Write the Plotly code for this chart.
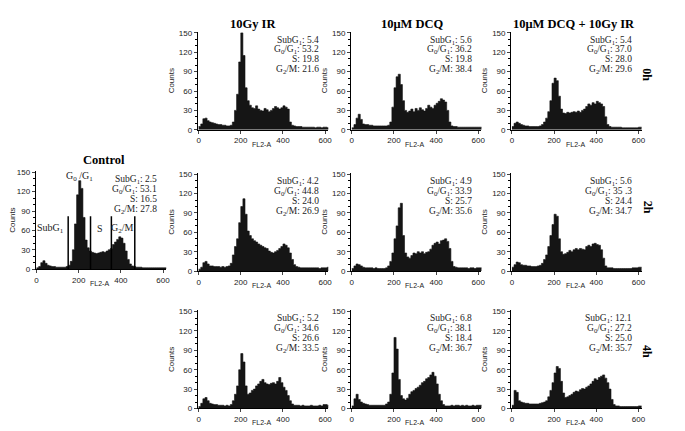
import plotly.graph_objects as go

# FL2-A bins (left edges), counts
fl2 = list(range(0, 630, 10))

control = [2, 4, 10, 13, 9, 6, 5, 4, 4, 3,
           3, 3, 3, 3, 4, 6, 12, 30, 70, 115,
           137, 125, 80, 45, 33, 28, 26, 25, 24, 25,
           26, 27, 26, 28, 30, 32, 38, 42, 46, 50,
           48, 40, 28, 15, 8, 5, 4, 3, 3, 3,
           2, 2, 2, 2, 2, 2, 2, 2, 2, 2,
           2, 2, 2]

ir_0h = [5, 9, 17, 18, 14, 12, 11, 10, 9, 8,
         8, 7, 7, 6, 6, 7, 12, 30, 55, 105,
         150, 115, 65, 45, 38, 34, 33, 37, 32, 30,
         29, 33, 31, 28, 30, 33, 36, 34, 32, 34,
         37, 35, 32, 12, 7, 6, 5, 5, 5, 4,
         4, 4, 4, 4, 4, 3, 4, 4, 3, 4,
         4, 3, 3]
dcq_0h = [3, 8, 18, 24, 16, 9, 8, 8, 7, 7,
          6, 6, 6, 6, 6, 6, 6, 7, 12, 35,
          65, 82, 86, 70, 45, 30, 27, 29, 32, 28,
          33, 30, 34, 31, 29, 33, 38, 35, 33, 38,
          41, 44, 48, 46, 43, 30, 12, 6, 5, 5,
          4, 4, 4, 4, 4, 4, 4, 4, 4, 4,
          4, 4, 4]
combo_0h = [5, 10, 12, 10, 8, 7, 6, 6, 5, 5,
            5, 5, 5, 6, 8, 12, 18, 28, 45, 72,
            80, 76, 52, 32, 26, 25, 27, 26, 27, 28,
            27, 29, 27, 30, 32, 36, 40, 38, 42, 40,
            44, 42, 40, 36, 20, 8, 5, 4, 4, 4,
            4, 4, 3, 3, 3, 3, 3, 3, 3, 3,
            4, 4, 4]

ir_2h = [3, 6, 13, 15, 11, 8, 8, 7, 7, 7,
         6, 7, 6, 7, 8, 12, 25, 38, 50, 75,
         100, 112, 88, 62, 55, 50, 47, 45, 42, 40,
         38, 36, 35, 31, 29, 28, 30, 32, 35, 38,
         42, 40, 36, 28, 18, 10, 7, 6, 5, 5,
         5, 5, 5, 5, 5, 5, 5, 4, 5, 5,
         5, 6, 6]
dcq_2h = [4, 8, 11, 10, 8, 6, 5, 5, 5, 5,
          4, 5, 4, 4, 4, 4, 5, 8, 15, 28,
          50, 70, 98, 105, 55, 28, 22, 20, 24, 28,
          27, 30, 28, 30, 27, 29, 30, 34, 40, 43,
          45, 42, 47, 48, 50, 46, 35, 15, 7, 6,
          5, 5, 5, 5, 5, 4, 5, 5, 4, 5,
          5, 5, 5]
combo_2h = [6, 10, 14, 13, 10, 9, 9, 8, 8, 7,
            7, 7, 8, 9, 12, 18, 25, 38, 55, 72,
            88, 85, 50, 30, 26, 27, 29, 32, 30, 33,
            35, 33, 35, 34, 33, 38, 40, 38, 42, 43,
            41, 40, 33, 20, 8, 5, 5, 5, 4, 4,
            4, 4, 4, 4, 4, 4, 4, 5, 5, 5,
            6, 6, 5]

ir_4h = [3, 8, 15, 17, 12, 8, 7, 6, 6, 5,
         5, 5, 4, 5, 4, 6, 12, 22, 35, 60,
         85, 72, 35, 22, 24, 28, 30, 35, 38, 42,
         45, 40, 38, 37, 39, 40, 38, 42, 48, 40,
         33, 28, 20, 12, 7, 5, 5, 5, 4, 5,
         4, 4, 4, 5, 4, 4, 4, 5, 4, 6,
         6, 5, 5]
dcq_4h = [4, 15, 22, 14, 10, 8, 7, 6, 5, 5,
          5, 5, 5, 5, 5, 5, 7, 10, 22, 55,
          110, 92, 45, 20, 15, 13, 16, 22, 26, 28,
          31, 33, 36, 40, 42, 46, 48, 52, 56, 50,
          38, 22, 12, 6, 4, 4, 4, 5, 4, 5,
          5, 4, 5, 4, 5, 4, 4, 5, 4, 5,
          5, 5, 5]
combo_4h = [5, 28, 25, 12, 10, 9, 8, 8, 7, 7,
            7, 7, 7, 8, 9, 10, 12, 18, 28, 40,
            55, 65, 62, 42, 24, 17, 18, 20, 22, 25,
            27, 26, 29, 31, 30, 33, 35, 38, 42, 46,
            44, 48, 50, 52, 47, 40, 30, 14, 6, 4,
            4, 3, 3, 3, 3, 3, 3, 3, 3, 3,
            4, 4, 4]

# SubG1, G0/G1, S, G2/M percentages
control_stats = ["2.5", "53.1", "16.5", "27.8"]
stats_0h = [["5.4", "53.2", "19.8", "21.6"], ["5.6", "36.2", "19.8", "38.4"], ["5.4", "37.0", "28.0", "29.6"]]
stats_2h = [["4.2", "44.8", "24.0", "26.9"], ["4.9", "33.9", "25.7", "35.6"], ["5.6", "35 .3", "24.4", "34.7"]]
stats_4h = [["5.2", "34.6", "26.6", "33.5"], ["6.8", "38.1", "18.4", "36.7"], ["12.1", "27.2", "25.0", "35.7"]]

treatments = ["10Gy IR", "10\u03bcM DCQ", "10\u03bcM DCQ + 10Gy IR"]
times = ["0h", "2h", "4h"]
yticks = [0, 30, 60, 90, 120, 150]
xticks = [0, 200, 400, 600]

W, H = 685, 431
PW, PH = 132, 100
SERIF = "Liberation Serif"
SANS = "Liberation Sans"

fig = go.Figure()
annotations = []


def add_panel(i, counts, stats, x0, y0):
    ax = "" if i == 1 else str(i)
    fig.add_trace(go.Scatter(
        x=fl2, y=counts, mode="lines", fill="tozeroy",
        line=dict(shape="hv", color="#111111", width=0.6),
        fillcolor="#151515", xaxis="x" + ax, yaxis="y" + ax,
        showlegend=False, hoverinfo="skip"))
    fig.update_layout(**{
        "xaxis" + ax: dict(
            domain=[x0 / W, (x0 + PW) / W], anchor="y" + ax, range=[-4, 615],
            tickvals=xticks, ticks="outside", ticklen=3, showline=True,
            linecolor="black", linewidth=1, showgrid=False, zeroline=False,
            tickfont=dict(family=SANS, size=8, color="#222")),
        "yaxis" + ax: dict(
            domain=[1 - (y0 + PH) / H, 1 - y0 / H], anchor="x" + ax, range=[0, 152],
            tickvals=yticks, ticks="outside", ticklen=3, showline=True,
            linecolor="black", linewidth=1, showgrid=False, zeroline=False,
            minor=dict(ticks="outside", ticklen=2, dtick=10, tickcolor="black"),
            tickfont=dict(family=SANS, size=8, color="#222"),
            title=dict(text="Counts", font=dict(family=SANS, size=8, color="#222"), standoff=3)),
    })
    annotations.append(dict(
        text="FL2-A", xref="x" + ax + " domain", yref="y" + ax + " domain",
        x=0.49, y=0, yshift=-20, xanchor="center", showarrow=False,
        font=dict(family=SANS, size=7, color="#222")))
    labels = ["SubG<sub>1</sub>: ", "G<sub>0</sub>/G<sub>1</sub>: ", "S: ", "G<sub>2</sub>/M: "]
    for lab, val, yy in zip(labels, stats, [139, 124, 109, 93]):
        annotations.append(dict(
            text=lab + val, xref="x" + ax, yref="y" + ax, x=580, y=yy,
            xanchor="right", yanchor="middle", showarrow=False,
            font=dict(family=SERIF, size=9.5, color="#222")))


add_panel(1, control, control_stats, 24, 163)

col_x = [188, 343, 505]
row_y = [21, 165, 305]
rows = [[ir_0h, dcq_0h, combo_0h], [ir_2h, dcq_2h, combo_2h], [ir_4h, dcq_4h, combo_4h]]
all_stats = [stats_0h, stats_2h, stats_4h]
n = 2
for r in range(3):
    for c in range(3):
        add_panel(n, rows[r][c], all_stats[r][c], col_x[c], row_y[r])
        n += 1

# column titles
for c, name in enumerate(treatments):
    annotations.append(dict(
        text="<b>" + name + "</b>", xref="paper", yref="paper",
        x=[244, 405, 569][c] / W, y=1 - 13 / H, xanchor="center", yanchor="middle",
        showarrow=False, font=dict(family=SERIF, size=12.5, color="black")))
annotations.append(dict(
    text="<b>Control</b>", xref="paper", yref="paper",
    x=93 / W, y=1 - 152 / H, xanchor="center", yanchor="middle", showarrow=False,
    font=dict(family=SERIF, size=12.5, color="black")))

# row labels
for r, t in enumerate(times):
    annotations.append(dict(
        text="<b>" + t + "</b>", xref="paper", yref="paper",
        x=643 / W, y=1 - [65, 200, 347][r] / H, xanchor="center", yanchor="middle",
        textangle=90, showarrow=False,
        font=dict(family=SERIF, size=12, color="black")))

# phase gates on the control histogram
gates = [150, 256, 355, 466]
shapes = [dict(type="line", xref="x", yref="y", x0=g, x1=g, y0=0, y1=82,
               line=dict(color="black", width=1.5)) for g in gates]
for txt, gx, gy in [("SubG<sub>1</sub>", 68, 63), ("S", 300, 63),
                    ("G<sub>2</sub>/M", 410, 63), ("G<sub>0</sub> /G<sub>1</sub>", 205, 144)]:
    annotations.append(dict(
        text=txt, xref="x", yref="y", x=gx, y=gy, showarrow=False,
        font=dict(family=SERIF, size=10, color="#222")))

fig.update_layout(
    width=W, height=H, margin=dict(l=0, r=0, t=0, b=0),
    paper_bgcolor="white", plot_bgcolor="white",
    annotations=annotations, shapes=shapes)

fig.write_html("out.html")
